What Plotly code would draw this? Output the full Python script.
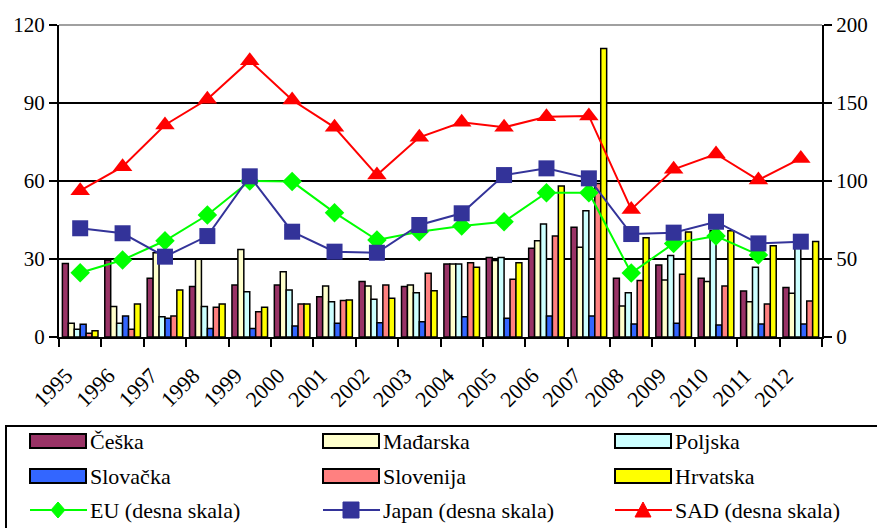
import plotly.graph_objects as go

# Categories (years)
years = [str(y) for y in range(1995, 2013)]

# Left scale (bars)
ceska = [28.3, 29.6, 22.6, 19.4, 20.0, 20.0, 15.5, 21.3, 19.4, 28.1, 30.6, 34.1, 42.2, 22.6, 27.7, 22.6, 17.7, 19.0]
madarska = [5.3, 11.7, 32.4, 29.9, 33.7, 25.1, 19.6, 19.6, 20.0, 28.1, 29.4, 37.0, 34.5, 11.9, 21.9, 21.3, 13.6, 16.8]
poljska = [3.0, 5.3, 7.8, 11.7, 17.4, 18.1, 13.6, 14.5, 17.0, 28.1, 30.6, 43.5, 48.6, 17.0, 31.3, 41.0, 26.8, 35.0]
slovacka = [4.9, 8.1, 7.2, 3.3, 3.3, 4.2, 5.3, 5.5, 5.9, 7.8, 7.2, 8.1, 8.1, 5.0, 5.3, 4.6, 5.0, 5.0]
slovenija = [1.4, 3.0, 8.1, 11.4, 9.7, 12.7, 14.0, 20.0, 24.5, 28.6, 22.2, 38.8, 59.0, 21.7, 24.1, 19.6, 12.7, 13.8]
hrvatska = [2.4, 12.7, 18.1, 12.7, 11.4, 12.7, 14.2, 14.9, 17.8, 26.8, 28.6, 58.1, 111.0, 38.2, 40.4, 40.9, 35.1, 36.7]

# Right scale (lines)
eu = [41.2, 49.4, 61.7, 78.2, 100.0, 99.6, 79.7, 62.2, 67.5, 71.2, 73.9, 92.5, 92.5, 41.0, 60.0, 64.7, 52.6, None]
japan = [69.7, 66.5, 51.5, 64.7, 103.0, 67.5, 54.7, 54.0, 71.8, 79.3, 103.8, 108.1, 101.7, 66.0, 66.9, 73.9, 60.0, 61.1]
sad = [93.8, 109.2, 135.9, 152.4, 177.1, 151.9, 134.4, 103.8, 128.0, 137.6, 134.4, 141.2, 141.7, 81.8, 107.5, 117.3, 100.6, 114.5]

left_ticks = [0, 30, 60, 90, 120]
right_ticks = [0, 50, 100, 150, 200]

bar_series = [
    ("Češka", ceska, "#993366"),
    ("Mađarska", madarska, "#FFFFCC"),
    ("Poljska", poljska, "#CCFFFF"),
    ("Slovačka", slovacka, "#3366FF"),
    ("Slovenija", slovenija, "#FF8080"),
    ("Hrvatska", hrvatska, "#FFFF00"),
]
line_series = [
    ("EU (desna skala)", eu, "#00FF00", "diamond", 15),
    ("Japan (desna skala)", japan, "#333399", "square", 16),
    ("SAD (desna skala)", sad, "#FF0000", "triangle-up", 17),
]

FONT = "serif"
W, H = 877, 528
L, R, T, B = 59, 822, 25, 337

fig = go.Figure()
for name, vals, col in bar_series:
    fig.add_trace(go.Bar(
        x=years, y=vals, name=name, marker=dict(color=col, line=dict(color="black", width=1.5)),
        yaxis="y", showlegend=False,
    ))
for name, vals, col, sym, sz in line_series:
    fig.add_trace(go.Scatter(
        x=years, y=vals, name=name, mode="lines+markers", yaxis="y2",
        line=dict(color=col, width=2), marker=dict(symbol=sym, size=sz, color=col),
        showlegend=False, connectgaps=False,
    ))


def px(x):
    return (x - L) / (R - L)


def py(y):
    return (B - y) / (B - T)


# gray top border of plot area
fig.add_shape(type="line", xref="paper", yref="paper", x0=0, x1=1, y0=1, y1=1,
              line=dict(color="#A0A0A0", width=2))

# legend box
fig.add_shape(type="rect", xref="paper", yref="paper", x0=px(6), x1=px(900), y0=py(545), y1=py(426),
              line=dict(color="black", width=2), fillcolor="rgba(0,0,0,0)")

col_x = [30, 323, 615]
row_y = [441, 476, 510]
entries = [(n, c, "bar", None) for n, _, c in bar_series] + [(n, c, "line", s) for n, _, c, s, _ in line_series]
for i, (name, col, kind, sym) in enumerate(entries):
    cx = col_x[i % 3]
    cy = row_y[i // 3]
    if kind == "bar":
        fig.add_shape(type="rect", xref="paper", yref="paper",
                      x0=px(cx), x1=px(cx + 56), y0=py(cy + 7), y1=py(cy - 7),
                      fillcolor=col, line=dict(color="black", width=2))
    else:
        fig.add_shape(type="line", xref="paper", yref="paper",
                      x0=px(cx), x1=px(cx + 57), y0=py(cy), y1=py(cy),
                      line=dict(color=col, width=2))
        mx = cx + 28
        if sym == "diamond":
            pts = [(mx, cy - 8), (mx + 7, cy), (mx, cy + 8), (mx - 7, cy)]
        elif sym == "square":
            pts = [(mx - 8, cy - 8), (mx + 8, cy - 8), (mx + 8, cy + 8), (mx - 8, cy + 8)]
        else:
            pts = [(mx, cy - 8), (mx + 8, cy + 7), (mx - 8, cy + 7)]
        path = "M " + " L ".join(f"{px(a)},{py(b)}" for a, b in pts) + " Z"
        fig.add_shape(type="path", xref="paper", yref="paper", path=path,
                      fillcolor=col, line=dict(color=col, width=1))
    fig.add_annotation(xref="paper", yref="paper", x=px(cx + 58), y=py(cy),
                       xanchor="left", yanchor="middle", text=name, showarrow=False,
                       font=dict(family=FONT, size=22, color="black"))

fig.update_layout(
    template="none",
    width=W, height=H,
    margin=dict(l=L, r=W - R, t=T, b=H - B, pad=0),
    paper_bgcolor="white", plot_bgcolor="white",
    barmode="group", bargap=0.16, bargroupgap=0,
    showlegend=False,
    font=dict(family=FONT, size=21, color="black"),
)
fig.update_xaxes(
    type="category", range=[-0.5, len(years) - 0.5], tickangle=-45, tickson="boundaries",
    ticks="outside", ticklen=8, tickwidth=2, tickcolor="black", showline=True,
    linecolor="black", linewidth=2, showgrid=False, zeroline=False,
    tickfont=dict(family=FONT, size=22, color="black"),
    ticklabelstandoff=15, ticklabelshift=-14,
)
fig.update_layout(
    yaxis=dict(
        range=[0, 120], tickvals=left_ticks, ticks="outside", ticklen=8, tickwidth=2,
        tickcolor="black", showline=True, linecolor="black", linewidth=2,
        showgrid=True, gridcolor="black", gridwidth=2, zeroline=False,
        tickfont=dict(family=FONT, size=21, color="black"),
    ),
    yaxis2=dict(
        range=[0, 200], tickvals=right_ticks, overlaying="y", side="right", ticks="outside",
        ticklen=8, tickwidth=2, tickcolor="black", showline=True, linecolor="black", linewidth=2,
        showgrid=False, zeroline=False, tickfont=dict(family=FONT, size=21, color="black"),
    ),
)

fig.write_html("out.html")
